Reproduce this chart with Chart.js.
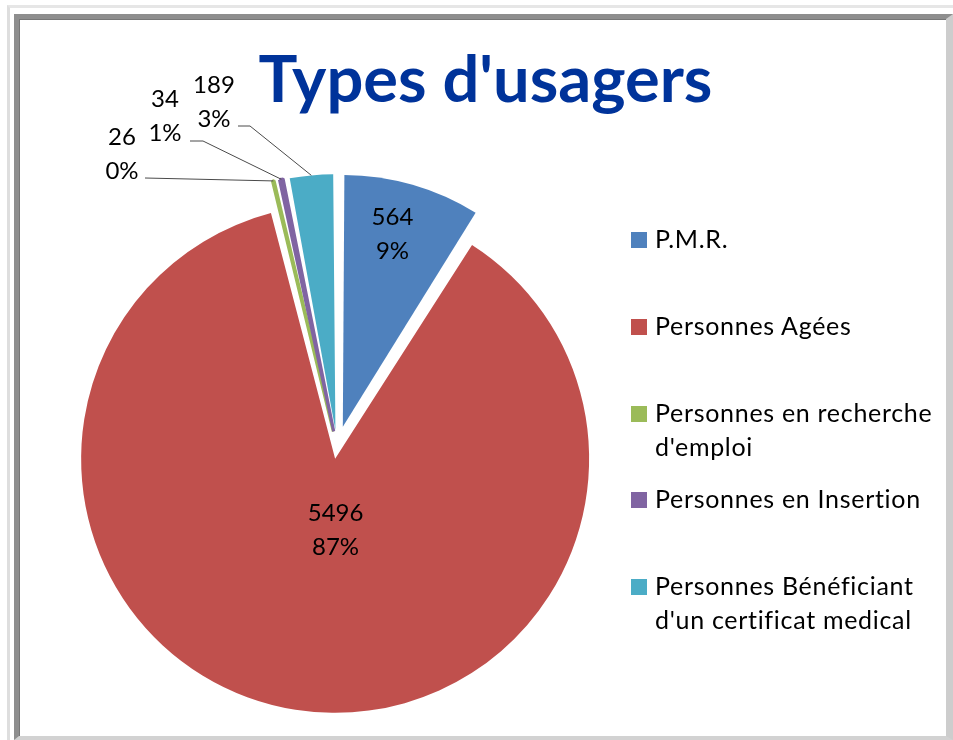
<!DOCTYPE html>
<html lang="fr">
<head>
<meta charset="utf-8">
<title>Types d'usagers</title>
<script src="https://cdn.jsdelivr.net/npm/chart.js@4.4.0/dist/chart.umd.min.js"></script>
<style>
    html, body { margin: 0; padding: 0; background: #fff; }
    #wrap { position: relative; width: 953px; height: 740px; overflow: hidden; font-family: Lato, "Open Sans", sans-serif; }
    .edge { position: absolute; left: 7px; top: 5px; right: 0; bottom: 0; border-left: 3px solid #dedede; border-top: 3px solid #e6e6e6; }
    .frame { position: absolute; left: 14px; top: 14px; width: 927px; height: 717px; border-style: solid; border-width: 5px 7px 4px 5px; border-color: #8e8e8e #cdcdcd #d2d2d2 #8e8e8e; box-shadow: inset 1px 1px 0 #777; background: #fff; }
    canvas { position: absolute; left: 0; top: 0; }
    #title { position: absolute; left: 9px; top: 45px; width: 953px; text-align: center; font: bold 65px/65px Lato, sans-serif; color: #00339a; }
    .item { position: absolute; left: 631px; font: 25px/34px Lato, sans-serif; letter-spacing: 0.7px; color: #000; white-space: nowrap; }
    .item .sw { position: absolute; left: 0; top: 11px; width: 16px; height: 16px; }
    .item .txt { margin-left: 24px; }
</style>
</head>
<body>
<div id="wrap">
    <div class="edge"></div>
    <div class="frame"></div>
    <canvas id="pie" width="953" height="740"></canvas>
    <div id="title">Types d'usagers</div>
    <div id="legend"></div>
</div>
<script>
// data
const categories = [
    ['P.M.R.'],
    ['Personnes Agées'],
    ['Personnes en recherche', "d'emploi"],
    ['Personnes en Insertion'],
    ['Personnes Bénéficiant', "d'un certificat medical"]
];
const values = [564, 5496, 26, 34, 189];

const colors = ['#4f81bd', '#c0504d', '#9bbb59', '#8064a2', '#4bacc6'];
// exploded slices (Chart.js v4 moves an arc by offset / 4)
const explode = [84, 48, 64, 64, 68];
// the two thin slices get trimmed by the explode, a same-colour edge widens them back
const edge = [0, 0, 3, 3, 0];

// where the labels sit
const insideSpots = [{ dist: 0.91, turn: -1.5 }, { dist: 0.343, turn: -8 }, null, null, null];
const outsideSpots = [null, null,
    { text: [-215, -293], from: [-192, -269] },
    { text: [-172, -331], from: [-147, -306], elbow: [-134, -306] },
    { text: [-123, -345], from: [-99, -321], elbow: [-87, -321] }
];
const legendTops = [221, 308, 395, 481, 568];

const sliceLabels = {
    id: 'sliceLabels',
    afterDatasetsDraw(chart) {
        const ctx = chart.ctx;
        const arcs = chart.getDatasetMeta(0).data;
        const total = values.reduce((a, b) => a + b, 0);
        ctx.save();
        ctx.font = '24px Lato';
        ctx.fillStyle = '#000';
        ctx.textAlign = 'center';
        ctx.textBaseline = 'middle';
        arcs.forEach((arc, i) => {
            const mid = (arc.startAngle + arc.endAngle) / 2;
            let bx, by;
            if (insideSpots[i]) {
                const spot = insideSpots[i];
                const a = mid + spot.turn * Math.PI / 180;
                bx = arc.x + Math.cos(a) * arc.outerRadius * spot.dist;
                by = arc.y + Math.sin(a) * arc.outerRadius * spot.dist;
            } else {
                const o = outsideSpots[i];
                bx = arc.x + o.text[0];
                by = arc.y + o.text[1];
                const shift = arc.options.offset / 4;
                const fix = 1 - Math.sin(Math.min(Math.PI, arc.circumference));
                const reach = shift + arc.outerRadius + shift * fix;
                ctx.beginPath();
                ctx.moveTo(arc.x + o.from[0], arc.y + o.from[1]);
                if (o.elbow) ctx.lineTo(arc.x + o.elbow[0], arc.y + o.elbow[1]);
                ctx.lineTo(arc.x + Math.cos(mid) * reach, arc.y + Math.sin(mid) * reach);
                ctx.strokeStyle = '#4a4a4a';
                ctx.lineWidth = 1;
                ctx.stroke();
            }
            ctx.fillText(String(values[i]), bx, by - 17);
            ctx.fillText(Math.round(values[i] / total * 100) + '%', bx, by + 17);
        });
        ctx.restore();
    }
};

new Chart(document.getElementById('pie'), {
    type: 'pie',
    data: {
        labels: categories.map(c => c.join(' ')),
        datasets: [{
            data: values,
            backgroundColor: colors,
            borderColor: colors,
            borderWidth: edge,
            offset: explode,
            hoverOffset: 0,
            radius: 242
        }]
    },
    options: {
        responsive: false,
        animation: false,
        events: [],
        layout: { padding: { left: 37, right: 316, top: 157, bottom: 3 } },
        plugins: {
            legend: { display: false },
            title: { display: false },
            tooltip: { enabled: false }
        }
    },
    plugins: [sliceLabels]
});

// legend on the right, two lines for the long names
const legend = document.getElementById('legend');
categories.forEach((lines, i) => {
    const item = document.createElement('div');
    item.className = 'item';
    item.style.top = legendTops[i] + 'px';
    item.innerHTML = '<span class="sw" style="background:' + colors[i] + '"></span>' +
        '<div class="txt">' + lines.join('<br>') + '</div>';
    legend.appendChild(item);
});
</script>
</body>
</html>
